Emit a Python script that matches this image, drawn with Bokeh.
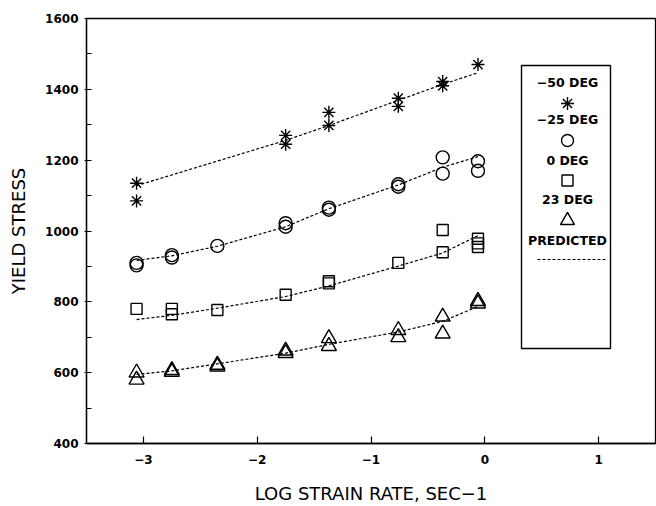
from bokeh.plotting import figure
from bokeh.models import Range1d, FixedTicker
from bokeh.core.properties import value
from bokeh.embed import file_html
from bokeh.resources import INLINE

# ---- data ----
x_m50 = [-3.06, -3.06, -1.75, -1.75, -1.37, -1.37, -0.76, -0.76, -0.37, -0.37, -0.06]
y_m50 = [1135, 1085, 1270, 1245, 1335, 1298, 1375, 1352, 1422, 1410, 1470]

x_m25 = [-3.06, -3.06, -2.75, -2.75, -2.35, -1.75, -1.75, -1.37, -1.37, -0.76, -0.76, -0.37, -0.37, -0.06, -0.06]
y_m25 = [903, 910, 925, 932, 958, 1012, 1022, 1060, 1066, 1125, 1132, 1208, 1162, 1197, 1170]

x_0 = [-3.06, -2.75, -2.75, -2.35, -1.75, -1.37, -1.37, -0.76, -0.37, -0.37, -0.06, -0.06, -0.06]
y_0 = [780, 780, 765, 777, 820, 852, 858, 910, 940, 1003, 978, 965, 955]

x_23 = [-3.06, -3.06, -2.75, -2.75, -2.35, -2.35, -1.75, -1.75, -1.37, -1.37, -0.76, -0.76, -0.37, -0.37, -0.06, -0.06]
y_23 = [600, 580, 607, 602, 622, 617, 662, 655, 697, 675, 720, 700, 758, 710, 802, 795]

px_m50 = [-3.06, -1.75, -1.37, -0.76, -0.37, -0.06]
py_m50 = [1128, 1256, 1298, 1369, 1414, 1447]
px_m25 = [-3.06, -2.75, -2.35, -1.75, -1.37, -0.76, -0.37, -0.06]
py_m25 = [917, 930, 957, 1012, 1063, 1130, 1180, 1210]
px_0 = [-3.06, -2.75, -2.35, -1.75, -1.37, -0.76, -0.37, -0.06]
py_0 = [750, 762, 782, 815, 845, 901, 938, 987]
px_23 = [-3.06, -2.75, -2.35, -1.75, -1.37, -0.76, -0.37, -0.06]
py_23 = [595, 605, 625, 655, 680, 715, 745, 787]

x_ticks = [-3, -2, -1, 0, 1]
x_tick_labels = ["\u22123", "\u22122", "\u22121", "0", "1"]
y_ticks = [400, 600, 800, 1000, 1200, 1400, 1600]

legend_labels = ["\u221250 DEG", "\u221225 DEG", "0 DEG", "23 DEG", "PREDICTED"]

# ---- layout ----
W, H = 656, 506
LEFT, RIGHT, TOP, BOTTOM = 86, 1, 18, 63
X0, X1, Y0, Y1 = -3.5, 1.5, 400, 1600
FW, FH = W - LEFT - RIGHT, H - TOP - BOTTOM

def sx(px):
    return X0 + (px - LEFT) / FW * (X1 - X0)

def sy(py):
    return Y1 - (py - TOP) / FH * (Y1 - Y0)

p = figure(width=W, height=H, output_backend="svg", toolbar_location=None,
           x_range=Range1d(X0, X1), y_range=Range1d(Y0, Y1),
           min_border_left=LEFT, min_border_right=RIGHT,
           min_border_top=TOP, min_border_bottom=BOTTOM)
p.grid.visible = False
p.outline_line_color = "black"
p.outline_line_width = 1.3
p.background_fill_color = "white"
p.border_fill_color = "white"

p.xaxis.ticker = FixedTicker(ticks=x_ticks)
p.xaxis.major_label_overrides = dict(zip(x_ticks, x_tick_labels))
p.yaxis.ticker = FixedTicker(ticks=y_ticks, minor_ticks=[500, 700, 900, 1100, 1300, 1500])

for ax in (p.xaxis[0], p.yaxis[0]):
    ax.axis_line_color = "black"
    ax.axis_line_width = 1.3
    ax.major_tick_line_color = "black"
    ax.major_tick_line_width = 1.2
    ax.minor_tick_line_color = "black"
    ax.minor_tick_line_width = 1.2
    ax.major_label_text_font = "DejaVu Sans"
    ax.major_label_text_font_style = "bold"
    ax.major_label_text_font_size = "12px"
    ax.major_label_text_color = "black"
    ax.axis_label_text_font = "DejaVu Sans"
    ax.axis_label_text_font_style = "normal"
    ax.axis_label_text_font_size = "18px"
    ax.axis_label_text_color = "black"

p.xaxis.major_tick_in = 7
p.xaxis.major_tick_out = 0
p.xaxis.minor_tick_in = 0
p.xaxis.minor_tick_out = 0
p.xaxis.major_label_standoff = 11
p.xaxis.axis_label = "LOG STRAIN RATE, SEC\u22121"
p.xaxis.axis_label_standoff = 16

p.yaxis.major_tick_in = 5
p.yaxis.major_tick_out = 2
p.yaxis.minor_tick_in = 5
p.yaxis.minor_tick_out = 0
p.yaxis.major_label_standoff = 6
p.yaxis.axis_label = "YIELD STRESS"
p.yaxis.axis_label_standoff = 13

DASH = "3 2"
for lx, ly in ((px_m50, py_m50), (px_m25, py_m25), (px_0, py_0), (px_23, py_23)):
    p.line(lx, ly, line_color="black", line_width=1.2, line_dash=DASH)

mk = dict(line_color="black", fill_color=None, line_width=1.4)
p.scatter(x_m50, y_m50, marker="asterisk", size=13, **mk)
p.scatter(x_m25, y_m25, marker="circle", size=13, **mk)
p.scatter(x_0, y_0, marker="square", size=11, **mk)
p.scatter(x_23, y_23, marker="triangle", size=15, **mk)

# ---- legend box (drawn manually: label above symbol) ----
p.quad(left=[sx(521)], right=[sx(610)], top=[sy(65)], bottom=[sy(348)],
       fill_color="white", line_color="black", line_width=1.4)
cx = sx(567)
text_rows = [82, 119, 160, 199, 240]
p.text(x=[cx] * 5, y=[sy(r) for r in text_rows], text=legend_labels,
       text_font=value("DejaVu Sans"), text_font_style="bold",
       text_font_size=value("12.5px"), text_align="center",
       text_baseline="middle", text_color="black")
p.scatter([cx], [sy(103)], marker="asterisk", size=13, **mk)
p.scatter([cx], [sy(140)], marker="circle", size=12, **mk)
p.scatter([cx], [sy(180)], marker="square", size=11, **mk)
p.scatter([cx], [sy(220)], marker="triangle", size=14, **mk)
p.line([sx(537), sx(605)], [sy(259), sy(259)], line_color="black",
       line_width=1.2, line_dash=DASH)

open("out.html", "w").write(file_html(p, INLINE))
